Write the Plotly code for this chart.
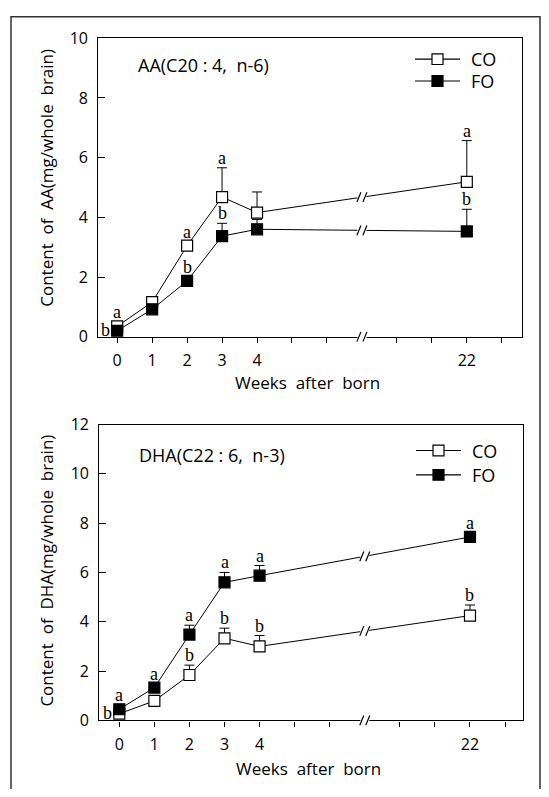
import plotly.graph_objects as go

W, H = 549, 797

# ---------------- data ----------------
week_labels = ["0", "1", "2", "3", "4", "22"]
week_pos = [0, 1, 2, 3, 4, 10]          # position on the broken axis
break_pos = 7

aa_co = [0.35, 1.16, 3.05, 4.68, 4.16, 5.19]
aa_co_err = [0, 0, 0, 0.98, 0.69, 1.38]
aa_fo = [0.20, 0.92, 1.87, 3.37, 3.60, 3.53]
aa_fo_err = [0, 0, 0, 0.43, 0.33, 0.74]
aa_co_sig = ["a", "", "a", "a", "", "a"]
aa_fo_sig = ["b", "", "b", "b", "", "b"]

dha_co = [0.27, 0.79, 1.84, 3.33, 3.00, 4.25]
dha_co_err = [0, 0, 0.40, 0.41, 0.44, 0.43]
dha_fo = [0.45, 1.33, 3.48, 5.60, 5.87, 7.44]
dha_fo_err = [0, 0, 0.38, 0.40, 0.41, 0]
dha_co_sig = ["b", "", "b", "b", "b", "b"]
dha_fo_sig = ["a", "a", "a", "a", "a", "a"]

series_names = ["CO", "FO"]
tick_pos = [0, 1, 2, 3, 4, 5, 6, 8, 9, 10, 11]
tick_text = ["0", "1", "2", "3", "4", "", "", "", "", "22", ""]

SANS = "Open Sans"
SERIF = "Liberation Serif"

# ---------------- layout geometry (pixels) ----------------
panels = [
    dict(x0=98.3, x1=521.7, ytop=28, ybot=335, xr=[-0.54, 11.57], yr=[0, 10],
         title="Content  of  AA(mg/whole  brain)", note="AA(C20 : 4,  n-6)",
         note_y=56, ytitle_y=172, xtitle_y=382,
         co=aa_co, co_err=aa_co_err, fo=aa_fo, fo_err=aa_fo_err,
         co_sig=aa_co_sig, fo_sig=aa_fo_sig, leg_x=415, leg_ys=[49.5, 72]),
    dict(x0=99.3, x1=523.3, ytop=425.3, ybot=729.5, xr=[-0.57, 11.52], yr=[0, 12],
         title="Content  of  DHA(mg/whole  brain)", note="DHA(C22 : 6,  n-3)",
         note_y=457, ytitle_y=576, xtitle_y=779,
         co=dha_co, co_err=dha_co_err, fo=dha_fo, fo_err=dha_fo_err,
         co_sig=dha_co_sig, fo_sig=dha_fo_sig, leg_x=416, leg_ys=[452, 477]),
]

fig = go.Figure()
shapes = []
annotations = []


def px(x):
    return x / W


def py(y):
    return 1 - y / H


for i, p in enumerate(panels):
    ax = "" if i == 0 else str(i + 1)
    xref, yref = "x" + ax, "y" + ax
    ppx = (p["x1"] - p["x0"]) / (p["xr"][1] - p["xr"][0])
    ppy = (p["ybot"] - p["ytop"]) / (p["yr"][1] - p["yr"][0])

    for k, (key, fill) in enumerate((("co", "white"), ("fo", "black"))):
        fig.add_trace(go.Scatter(
            x=week_pos, y=p[key], name=series_names[k], mode="lines+markers",
            xaxis=xref, yaxis=yref, showlegend=False,
            line=dict(color="black", width=1),
            marker=dict(symbol="square", size=11, color=fill,
                        line=dict(color="black", width=1.2)),
            error_y=dict(type="data", symmetric=False, array=p[key + "_err"],
                         arrayminus=[0] * len(p[key]), color="black",
                         thickness=1, width=5),
        ))
        # manual legend entry
        lx, ly = p["leg_x"], p["leg_ys"][k]
        shapes.append(dict(type="line", xref="paper", yref="paper",
                           x0=px(lx), x1=px(lx + 45), y0=py(ly), y1=py(ly),
                           line=dict(color="black", width=1.2)))
        shapes.append(dict(type="rect", xref="paper", yref="paper",
                           x0=px(lx + 22.5 - 5.5), x1=px(lx + 22.5 + 5.5),
                           y0=py(ly + 5.5), y1=py(ly - 5.5), fillcolor=fill,
                           line=dict(color="black", width=1.2), layer="above"))
        annotations.append(dict(x=px(lx + 54), y=py(ly), xref="paper", yref="paper",
                                text=series_names[k], showarrow=False,
                                xanchor="left", yanchor="middle",
                                font=dict(family=SANS, size=18, color="black")))

    # significance letters
    for key, other in (("co", "fo"), ("fo", "co")):
        for j, letter in enumerate(p[key + "_sig"]):
            if not letter:
                continue
            val = p[key][j]
            err = p[key + "_err"][j]
            if j == 0 and val < p[other][j]:
                annotations.append(dict(x=week_pos[j], y=val, xref=xref, yref=yref,
                                        text=letter, showarrow=False, xshift=-12, yshift=1,
                                        font=dict(family=SERIF, size=18, color="black")))
            else:
                annotations.append(dict(x=week_pos[j], y=val + err, xref=xref, yref=yref,
                                        text=letter, showarrow=False,
                                        yshift=(14 if err == 0 else 10),
                                        font=dict(family=SERIF, size=18, color="black")))

    def brk(xc, yc, on_axis):
        hw, hh = 4.5, 6
        if not on_axis:
            X = lambda d: xc + d / ppx
            Y = lambda d: yc + d / ppy
            sx, sy = xref, yref
        else:
            X = lambda d: px(p["x0"] + (xc - p["xr"][0]) * ppx + d)
            Y = lambda d: py(p["ybot"] - d)
            sx, sy = "paper", "paper"
        shapes.append(dict(type="rect", xref=sx, yref=sy, x0=X(-hw), x1=X(hw),
                           y0=Y(-hh), y1=Y(hh), fillcolor="white",
                           line=dict(width=0), layer="above"))
        for d in (-3, 3):
            shapes.append(dict(type="line", xref=sx, yref=sy, x0=X(d - 2), x1=X(d + 2),
                               y0=Y(-5), y1=Y(5), line=dict(color="black", width=1.2),
                               layer="above"))

    f = (break_pos - week_pos[4]) / (week_pos[5] - week_pos[4])
    for key in ("co", "fo"):
        yb = p[key][4] + (p[key][5] - p[key][4]) * f
        brk(break_pos, yb, False)
    brk(break_pos, 0, True)

    annotations.append(dict(x=px(p["x0"] + 38), y=py(p["note_y"]), xref="paper", yref="paper",
                            text=p["note"], showarrow=False, xanchor="left", yanchor="middle",
                            font=dict(family=SANS, size=18, color="black")))
    annotations.append(dict(x=px(46.5), y=py(p["ytitle_y"]), xref="paper", yref="paper",
                            text=p["title"], showarrow=False, textangle=-90,
                            xanchor="center", yanchor="middle",
                            font=dict(family=SANS, size=17, color="black")))
    annotations.append(dict(x=px((p["x0"] + p["x1"]) / 2 - 3), y=py(p["xtitle_y"]),
                            xref="paper", yref="paper", text="Weeks  after  born",
                            showarrow=False, xanchor="center", yanchor="middle",
                            font=dict(family=SANS, size=17, color="black")))

    xa = dict(domain=[px(p["x0"]), px(p["x1"])], range=p["xr"], anchor=yref,
              tickmode="array", tickvals=tick_pos, ticktext=tick_text,
              ticks="outside", ticklen=5, tickwidth=1, tickcolor="black",
              showline=True, mirror=True, linecolor="black", linewidth=1.3,
              showgrid=False, zeroline=False, ticklabelstandoff=4,
              tickfont=dict(family=SANS, size=16, color="black"))
    ya = dict(domain=[py(p["ybot"]), py(p["ytop"])], range=p["yr"], anchor=xref,
              dtick=2, tick0=0, ticks="inside", ticklen=7, tickwidth=1,
              tickcolor="black", showline=True, mirror=True, linecolor="black",
              linewidth=1.3, showgrid=False, zeroline=False, ticklabelstandoff=6,
              tickfont=dict(family=SANS, size=16, color="black"))
    fig.update_layout(**{"xaxis" + ax: xa, "yaxis" + ax: ya})

# outer frame
shapes.append(dict(type="path", xref="paper", yref="paper",
                   path=f"M {px(11)} {py(800)} L {px(11)} {py(6)} L {px(540)} {py(6)} L {px(540)} {py(800)}",
                   line=dict(color="#333333", width=1.5), layer="above"))

fig.update_layout(width=W, height=H, margin=dict(l=0, r=0, t=0, b=0),
                  paper_bgcolor="white", plot_bgcolor="white",
                  shapes=shapes, annotations=annotations, showlegend=False)

fig.write_html("out.html", config={"displayModeBar": False},
               post_script="document.body.style.margin='0px';document.body.style.overflow='hidden';")
